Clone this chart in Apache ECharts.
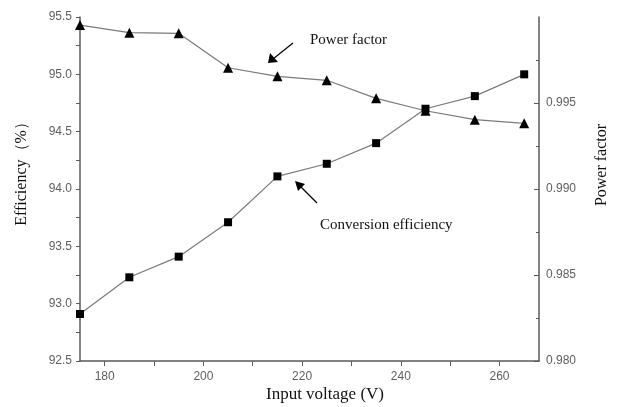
<!DOCTYPE html>
<html lang="en">
  <head>
    <meta charset="UTF-8" />
    <title>Efficiency and power factor</title>
    <script src="https://cdn.jsdelivr.net/npm/echarts@6.0.0/dist/echarts.min.js"></script>
    <style>
      html, body { margin: 0; padding: 0; background: #fff; }
      #main { width: 622px; height: 407px; }
    </style>
  </head>
  <body>
    <div id="main"></div>
    <script>
      // input voltage (V)
      const voltages = [175, 185, 195, 205, 215, 225, 235, 245, 255, 265];
      // conversion efficiency (%)
      const efficiency = [92.91, 93.23, 93.41, 93.71, 94.11, 94.22, 94.40, 94.70, 94.81, 95.0];
      // power factor
      const powerFactor = [0.99953, 0.99909, 0.99905, 0.99705, 0.99655, 0.99632, 0.99527, 0.99455, 0.99403, 0.99382];

      const xLabels = [180, 200, 220, 240, 260];
      const xTicks = [180, 190, 200, 210, 220, 230, 240, 250, 260];
      const pfLabels = [0.98, 0.985, 0.99, 0.995];

      const axisColor = "#5a5a5a";
      const labelStyle = { color: "#5e5e5e", fontFamily: "Liberation Sans", fontSize: 12 };
      const serif = "Liberation Serif";

      const chart = echarts.init(document.getElementById("main"));

      chart.setOption({
        animation: false,
        grid: { left: 80, right: 83, top: 17, bottom: 46 },
        xAxis: {
          type: "value",
          min: 175,
          max: 268,
          splitLine: { show: false },
          axisLine: { lineStyle: { color: axisColor, width: 1.5 } },
          axisTick: { customValues: xTicks, length: 5, lineStyle: { color: axisColor } },
          axisLabel: Object.assign({ customValues: xLabels, margin: 10 }, labelStyle),
        },
        yAxis: [
          {
            type: "value",
            min: 92.5,
            max: 95.5,
            interval: 0.5,
            splitLine: { show: false },
            axisLine: { show: true, lineStyle: { color: axisColor, width: 1.5 } },
            axisTick: { show: true, length: 4, lineStyle: { color: axisColor } },
            minorTick: { show: true, splitNumber: 2, length: 4, lineStyle: { color: axisColor } },
            axisLabel: Object.assign({ margin: 8, formatter: (v) => v.toFixed(1) }, labelStyle),
          },
          {
            type: "value",
            min: 0.98,
            max: 1.0,
            interval: 0.005,
            position: "right",
            splitLine: { show: false },
            axisLine: { show: true, lineStyle: { color: axisColor, width: 1.5 } },
            axisTick: { show: true, inside: true, length: 5, customValues: pfLabels, lineStyle: { color: axisColor } },
            minorTick: { show: true, splitNumber: 2, length: 3, lineStyle: { color: axisColor } },
            axisLabel: Object.assign({ margin: 7, customValues: pfLabels, formatter: (v) => v.toFixed(3) }, labelStyle),
          },
        ],
        series: [
          {
            name: "Conversion efficiency",
            type: "line",
            yAxisIndex: 0,
            data: voltages.map((v, i) => [v, efficiency[i]]),
            symbol: "rect",
            symbolSize: 8,
            itemStyle: { color: "#000" },
            lineStyle: { color: "#7a7a7a", width: 1.2 },
          },
          {
            name: "Power factor",
            type: "line",
            yAxisIndex: 1,
            data: voltages.map((v, i) => [v, powerFactor[i]]),
            symbol: "triangle",
            symbolSize: 10,
            itemStyle: { color: "#000" },
            lineStyle: { color: "#7a7a7a", width: 1.2 },
          },
        ],
        graphic: [
          // axis titles
          {
            type: "text", x: 22, y: 170, rotation: Math.PI / 2,
            style: { text: "Efficiency（%）", font: "16px " + serif, fill: "#111", align: "center", verticalAlign: "middle" },
          },
          {
            type: "text", x: 602, y: 165, rotation: Math.PI / 2,
            style: { text: "Power factor", font: "16px " + serif, fill: "#111", align: "center", verticalAlign: "middle" },
          },
          {
            type: "text", x: 325, y: 395,
            style: { text: "Input voltage (V)", font: "17px " + serif, fill: "#111", align: "center", verticalAlign: "middle" },
          },
          // annotations
          {
            type: "text", x: 310, y: 40,
            style: { text: "Power factor", font: "15px " + serif, fill: "#111", verticalAlign: "middle" },
          },
          { type: "line", shape: { x1: 293, y1: 43, x2: 273, y2: 59 }, style: { stroke: "#000", lineWidth: 1.3 } },
          { type: "polygon", shape: { points: [[268, 63], [270, 53], [278, 62]] }, style: { fill: "#000" } },
          {
            type: "text", x: 320, y: 225,
            style: { text: "Conversion efficiency", font: "15px " + serif, fill: "#111", verticalAlign: "middle" },
          },
          { type: "line", shape: { x1: 317, y1: 203, x2: 300, y2: 186 }, style: { stroke: "#000", lineWidth: 1.3 } },
          { type: "polygon", shape: { points: [[295, 181], [305, 184], [298, 191]] }, style: { fill: "#000" } },
        ],
      });
    </script>
  </body>
</html>
